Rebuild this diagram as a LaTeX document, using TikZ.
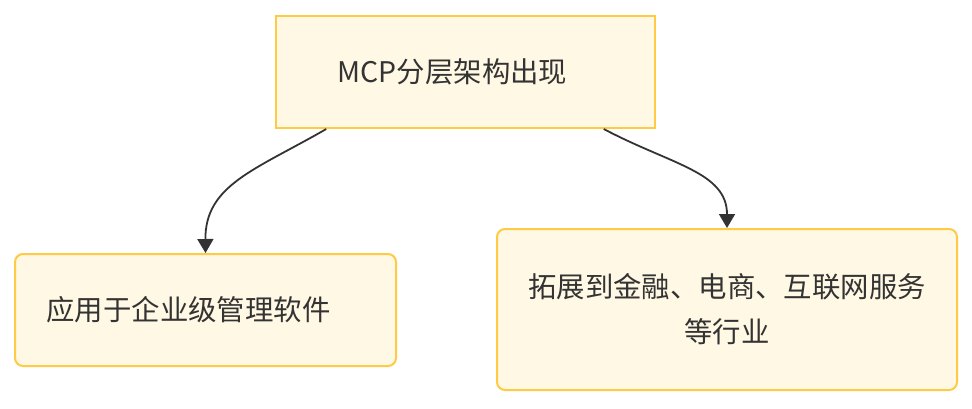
\documentclass[tikz,border=0pt]{standalone}
\usepackage{fontspec}
\setmainfont{Noto Sans CJK SC}
\usetikzlibrary{arrows.meta,calc}
\definecolor{boxfill}{HTML}{FFF8E4}
\definecolor{boxline}{HTML}{FFCB45}
\definecolor{inkdark}{HTML}{333333}
\begin{document}
\begin{tikzpicture}[
                x = 0.5pt, y = -0.5pt,
                box/.style = {draw = boxline, line width = 1pt, fill = boxfill, text = inkdark,
                              inner sep = 0mm, font = \fontsize{14.2}{22.5}\selectfont, align = center},
                arr/.style = {draw, color = inkdark, line width = 0.9pt, -{Triangle[length = 7pt, width = 8pt]}},
            ]
            \useasboundingbox (0,0) rectangle (972,408);

            \node (mcp) [box, minimum width = 189.5pt, minimum height = 56pt] at (465.5,72)
                {MCP分层架构出现\hspace{13pt}};
            \node (soft) [box, rounded corners = 4pt, minimum width = 190.5pt, minimum height = 56pt] at (205.5,310)
                {应用于企业级管理软件\hspace{17pt}};
            \node (ind) [box, rounded corners = 4pt, minimum width = 230pt, minimum height = 80.5pt] at (727,309.5)
                {拓展到金融、电商、互联网服务\\等行业};

            \coordinate (mcpl) at ($(mcp.south west)!0.1346!(mcp.south east)$);
            \coordinate (mcpr) at ($(mcp.south west)!0.8628!(mcp.south east)$);

            \path[arr] (mcpl) .. controls (255,170) and (205,185) .. (soft.north);
            \path[arr] (mcpr) .. controls (672,165) and (727,172) .. (ind.north);
        \end{tikzpicture}
\end{document}
